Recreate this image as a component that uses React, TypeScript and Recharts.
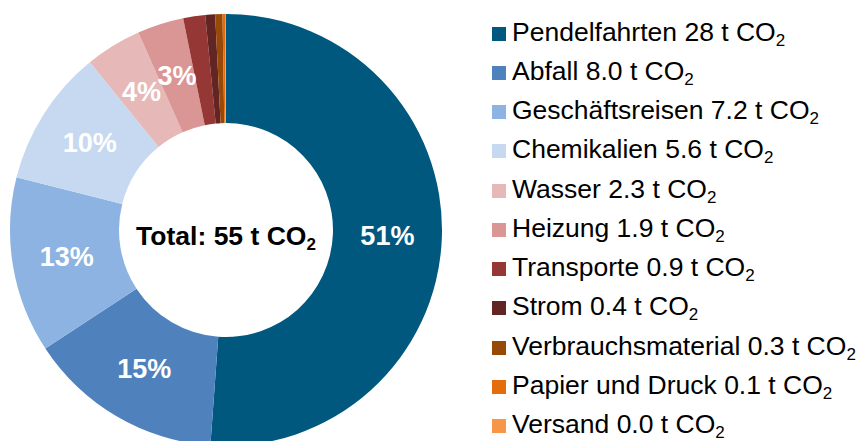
import { PieChart, Pie, Cell, Legend, Customized } from "recharts";

const categories = [
  "Pendelfahrten",
  "Abfall",
  "Geschäftsreisen",
  "Chemikalien",
  "Wasser",
  "Heizung",
  "Transporte",
  "Strom",
  "Verbrauchsmaterial",
  "Papier und Druck",
  "Versand",
];

// t CO2 per category
const emissions = [28, 8.0, 7.2, 5.6, 2.3, 1.9, 0.9, 0.4, 0.3, 0.1, 0.04];

const colors = [
  "#00587f",
  "#4f81bd",
  "#8db3e2",
  "#c6d9f1",
  "#e6b9b8",
  "#d99694",
  "#953735",
  "#632523",
  "#984807",
  "#e46c0a",
  "#f79646",
];

const FONT = '"Liberation Sans", Arial, sans-serif';
const RADIAN = Math.PI / 180;
const CX = 226;
const CY = 230;

const chartData = categories.map((name, i) => ({ name, value: emissions[i] }));
const total = emissions.reduce((a, b) => a + b, 0);

function fmt(v: number) {
  return v >= 10 ? v.toFixed(0) : v.toFixed(1);
}

function renderPercent(props: any) {
  const { cx, cy, midAngle, innerRadius, outerRadius, percent } = props;
  if (percent < 0.03) return null;
  const r = (innerRadius + outerRadius) / 2;
  const x = cx + r * Math.cos(-midAngle * RADIAN);
  const y = cy + r * Math.sin(-midAngle * RADIAN);
  return (
    <text
      x={x}
      y={y}
      fill="#fff"
      textAnchor="middle"
      dominantBaseline="central"
      fontFamily={FONT}
      fontWeight="bold"
      fontSize={27}
    >
      {`${Math.round(percent * 100)}%`}
    </text>
  );
}

function TotalLabel() {
  return (
    <text
      x={CX}
      y={CY + 15}
      textAnchor="middle"
      fontFamily={FONT}
      fontWeight="bold"
      fontSize={26.5}
      fill="#000"
    >
      {`Total: ${Math.round(total)} t CO`}
      <tspan fontSize={17} dy={5}>
        2
      </tspan>
    </text>
  );
}

function renderLegend() {
  return (
    <div style={{ fontFamily: FONT, fontSize: 26.5, color: "#000" }}>
      {categories.map((name, i) => (
        <div
          key={name}
          style={{ display: "flex", alignItems: "center", height: 39.25 }}
        >
          <span
            style={{
              display: "inline-block",
              width: 14,
              height: 14,
              background: colors[i],
              marginRight: 6,
            }}
          />
          <span style={{ whiteSpace: "nowrap" }}>
            {name} {fmt(emissions[i])} t CO
            <span style={{ fontSize: 17, verticalAlign: -5 }}>2</span>
          </span>
        </div>
      ))}
    </div>
  );
}

export default function App() {
  return (
    <div style={{ position: "absolute", left: 0, top: 0, background: "#fff" }}>
      <PieChart width={863} height={441} margin={{ top: 0, right: 0, bottom: 0, left: 0 }}>
        <Pie
          data={chartData}
          dataKey="value"
          nameKey="name"
          cx={CX}
          cy={CY}
          innerRadius={107}
          outerRadius={216}
          startAngle={90}
          endAngle={-270}
          stroke="none"
          label={renderPercent}
          labelLine={false}
          isAnimationActive={false}
        >
          {chartData.map((d, i) => (
            <Cell key={d.name} fill={colors[i]} />
          ))}
        </Pie>
        <Customized component={<TotalLabel />} />
        <Legend
          layout="vertical"
          align="right"
          verticalAlign="middle"
          content={renderLegend}
          wrapperStyle={{ left: 492, top: 14, width: 371 }}
        />
      </PieChart>
    </div>
  );
}
